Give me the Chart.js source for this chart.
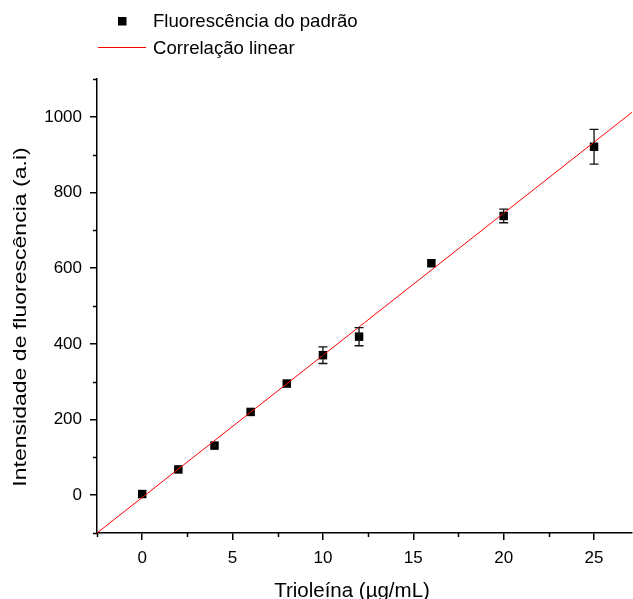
<!DOCTYPE html>
<html>
<head>
<meta charset="utf-8">
<script src="https://cdn.jsdelivr.net/npm/chart.js@4.4.1/dist/chart.umd.min.js"></script>
<style>
    html, body { margin: 0; padding: 0; background: #fff; }
    #contenedor { width: 633px; height: 599px; position: relative; }
</style>
</head>
<body>
<div id="contenedor"><canvas id="grafico"></canvas></div>
<script>
// dados
var concentracoes = [0, 2, 4, 6, 8, 10, 12, 16, 20, 25];
var fluorescencia = [3, 68, 131, 220, 295, 370, 419, 613, 738, 921];
var erros = [0, 0, 0, 0, 0, 22, 24, 0, 18, 46];

// reta de correlação (extremos)
var retaX = [-2.5, 27.1];
var retaY = [-100, 1012];

var ticksX = [0, 5, 10, 15, 20, 25];
var ticksY = [0, 200, 400, 600, 800, 1000];
var menoresX = [-2.5, 2.5, 7.5, 12.5, 17.5, 22.5];
var menoresY = [-100, 100, 300, 500, 700, 900, 1100];

var legenda = ['Fluorescência do padrão', 'Correlação linear'];
var tituloX = 'Trioleína (µg/mL)';
var tituloY = 'Intensidade de fluorescência (a.i)';

var fonte = '"Liberation Sans", Arial, sans-serif';

function semPadding(scale) {
    scale.paddingLeft = 0;
    scale.paddingRight = 0;
    scale.paddingTop = 0;
    scale.paddingBottom = 0;
}

document.addEventListener('DOMContentLoaded', function () {
    var pontos = concentracoes.map(function (x, i) { return { x: x, y: fluorescencia[i] }; });
    var reta = retaX.map(function (x, i) { return { x: x, y: retaY[i] }; });

    // barras de erro
    var barrasErro = {
        id: 'barrasErro',
        afterDatasetsDraw: function (chart) {
            var ctx = chart.ctx;
            var sx = chart.scales.x, sy = chart.scales.y;
            ctx.save();
            ctx.strokeStyle = '#111';
            ctx.lineWidth = 1.3;
            for (var i = 0; i < concentracoes.length; i++) {
                if (!erros[i]) continue;
                var px = sx.getPixelForValue(concentracoes[i]);
                var y1 = sy.getPixelForValue(fluorescencia[i] + erros[i]);
                var y2 = sy.getPixelForValue(fluorescencia[i] - erros[i]);
                ctx.beginPath();
                ctx.moveTo(px, y1); ctx.lineTo(px, y2);
                ctx.moveTo(px - 4.5, y1); ctx.lineTo(px + 4.5, y1);
                ctx.moveTo(px - 4.5, y2); ctx.lineTo(px + 4.5, y2);
                ctx.stroke();
            }
            ctx.restore();
        }
    };

    // ticks menores, títulos dos eixos e legenda
    var extras = {
        id: 'extras',
        afterDraw: function (chart) {
            var ctx = chart.ctx;
            var sx = chart.scales.x, sy = chart.scales.y;
            var area = chart.chartArea;
            ctx.save();
            ctx.strokeStyle = '#000';
            ctx.lineWidth = 1.5;
            ctx.beginPath();
            menoresX.forEach(function (v) {
                var px = Math.round(sx.getPixelForValue(v)) + 0.5;
                ctx.moveTo(px, area.bottom); ctx.lineTo(px, area.bottom + 4);
            });
            menoresY.forEach(function (v) {
                var py = Math.round(sy.getPixelForValue(v)) + 0.5;
                ctx.moveTo(area.left - 4, py); ctx.lineTo(area.left, py);
            });
            ctx.stroke();

            ctx.fillStyle = '#000';
            // título X
            ctx.font = '20.5px ' + fonte;
            ctx.textAlign = 'center';
            ctx.textBaseline = 'alphabetic';
            ctx.fillText(tituloX, 352, 597);

            // título Y
            ctx.save();
            ctx.translate(26, 317);
            ctx.rotate(-Math.PI / 2);
            ctx.scale(1.28, 1);
            ctx.font = '18px ' + fonte;
            ctx.fillText(tituloY, 0, 0);
            ctx.restore();

            // legenda
            ctx.font = '18.6px ' + fonte;
            ctx.textAlign = 'left';
            ctx.fillRect(118, 17, 8.5, 8.5);
            ctx.fillText(legenda[0], 153, 27);
            ctx.strokeStyle = '#ff0000';
            ctx.lineWidth = 1;
            ctx.beginPath();
            ctx.moveTo(98, 47.5); ctx.lineTo(146, 47.5);
            ctx.stroke();
            ctx.fillText(legenda[1], 153, 54);
            ctx.restore();
        }
    };

    var ctx = document.getElementById('grafico').getContext('2d');
    var grafico = new Chart(ctx, {
        type: 'scatter',
        data: {
            datasets: [{
                label: legenda[1],
                data: reta,
                type: 'line',
                showLine: true,
                borderColor: '#ff0000',
                borderWidth: 1,
                pointRadius: 0,
                fill: false
            }, {
                label: legenda[0],
                data: pontos,
                pointStyle: 'rect',
                pointRadius: 6,
                pointHoverRadius: 6,
                backgroundColor: '#000',
                borderWidth: 0
            }]
        },
        options: {
            responsive: true,
            maintainAspectRatio: false,
            animation: false,
            events: [],
            layout: { autoPadding: false, padding: { top: 79, right: 1, left: 0, bottom: 0 } },
            plugins: {
                legend: { display: false },
                tooltip: { enabled: false }
            },
            scales: {
                x: {
                    type: 'linear',
                    min: -2.5,
                    max: 27.1,
                    afterBuildTicks: function (scale) {
                        scale.ticks = ticksX.map(function (v) { return { value: v }; });
                    },
                    afterFit: function (scale) {
                        scale.height = 66;
                        semPadding(scale);
                    },
                    grid: { display: true, drawOnChartArea: false, drawTicks: true, tickLength: 7, color: '#000', lineWidth: 1.5 },
                    border: { display: true, color: '#000', width: 1.5 },
                    ticks: {
                        color: '#000', padding: 8, maxRotation: 0,
                        font: { family: fonte, size: 17 },
                        callback: function (v) { return String(v); }
                    }
                },
                y: {
                    type: 'linear',
                    min: -100,
                    max: 1100,
                    afterBuildTicks: function (scale) {
                        scale.ticks = ticksY.map(function (v) { return { value: v }; });
                    },
                    afterFit: function (scale) {
                        scale.width = 97;
                        semPadding(scale);
                    },
                    grid: { display: true, drawOnChartArea: false, drawTicks: true, tickLength: 7, color: '#000', lineWidth: 1.5 },
                    border: { display: true, color: '#000', width: 1.5 },
                    ticks: {
                        color: '#000', padding: 8,
                        font: { family: fonte, size: 17 },
                        callback: function (v) { return String(v); }
                    }
                }
            }
        },
        plugins: [barrasErro, extras]
    });
});
</script>
</body>
</html>
